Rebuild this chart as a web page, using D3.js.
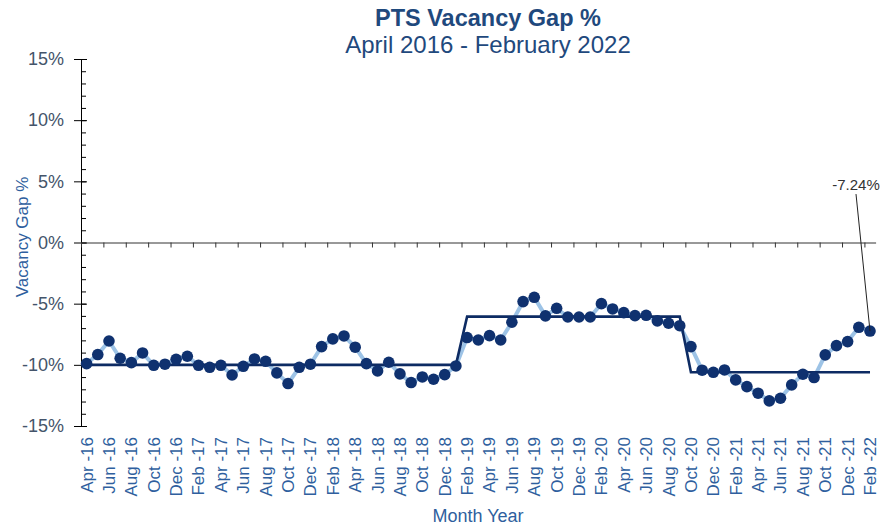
<!DOCTYPE html>
<html>
<head>
<meta charset="utf-8">
<script src="https://cdn.jsdelivr.net/npm/d3@7"></script>
<style>
  html, body { margin: 0; padding: 0; background: #ffffff; }
  svg { display: block; font-family: "Liberation Sans", Arial, sans-serif; }
</style>
</head>
<body>
<svg id="chart" width="884" height="532"></svg>
<script>
// Monthly categories, April 2016 to February 2022
const months = [
  "Apr -16","May -16","Jun -16","Jul -16","Aug -16","Sep -16","Oct -16","Nov -16","Dec -16",
  "Jan -17","Feb -17","Mar -17","Apr -17","May -17","Jun -17","Jul -17","Aug -17","Sep -17","Oct -17","Nov -17","Dec -17",
  "Jan -18","Feb -18","Mar -18","Apr -18","May -18","Jun -18","Jul -18","Aug -18","Sep -18","Oct -18","Nov -18","Dec -18",
  "Jan -19","Feb -19","Mar -19","Apr -19","May -19","Jun -19","Jul -19","Aug -19","Sep -19","Oct -19","Nov -19","Dec -19",
  "Jan -20","Feb -20","Mar -20","Apr -20","May -20","Jun -20","Jul -20","Aug -20","Sep -20","Oct -20","Nov -20","Dec -20",
  "Jan -21","Feb -21","Mar -21","Apr -21","May -21","Jun -21","Jul -21","Aug -21","Sep -21","Oct -21","Nov -21","Dec -21",
  "Jan -22","Feb -22"
];

// Monthly vacancy gap (%)
const vacancyGap = [
  -9.90, -9.16, -8.05, -9.46, -9.82, -9.03, -10.04, -9.95, -9.55,
  -9.30, -10.04, -10.20, -10.04, -10.83, -10.12, -9.52, -9.71, -10.66, -11.53, -10.20, -9.95,
  -8.51, -7.88, -7.64, -8.56, -9.90, -10.50, -9.79, -10.74, -11.45, -10.99, -11.18, -10.80,
  -10.09, -7.77, -7.97, -7.61, -7.97, -6.52, -4.83, -4.48, -6.00, -5.38, -6.09, -6.09,
  -6.09, -5.00, -5.43, -5.73, -5.98, -5.95, -6.41, -6.60, -6.80, -8.51, -10.44, -10.61,
  -10.42, -11.23, -11.78, -12.32, -12.95, -12.73, -11.64, -10.77, -11.04, -9.19, -8.43, -8.10,
  -6.93, -7.24
];

// Period averages: [first month, last month, mean gap %]
const periodMeans = [
  ["Apr -16", "Jan -19", -10.00],
  ["Feb -19", "Sep -20", -6.06],
  ["Oct -20", "Feb -22", -10.61]
];

const yMajorTicks = [-15, -10, -5, 0, 5, 10, 15];
const yMinorTicks = d3.range(-15, 16, 1);
const xLabelMonths = months.filter((m, i) => i % 2 === 0);

const svg = d3.select("#chart");

const plotLeft = 81, plotRight = 875.6, plotTop = 59, plotBottom = 426;

const x = d3.scaleBand().domain(months).range([plotLeft, plotRight]).padding(0);
const bw = x.bandwidth();
const cx = m => x(m) + bw / 2;
const y = d3.scaleLinear().domain([-15, 15]).range([plotBottom, plotTop]);
// boundary positions between categories (for tick marks on the zero line)
const xIdx = d3.scaleLinear().domain([0, months.length]).range([plotLeft, plotRight]);

const pctFmt = v => (v < 0 ? "-" : "") + Math.abs(v) + "%";

// Title
svg.append("text")
  .attr("x", 488).attr("y", 26)
  .attr("text-anchor", "middle")
  .attr("font-size", 23.5).attr("font-weight", "bold")
  .attr("fill", "#1f497d")
  .text("PTS Vacancy Gap %");
svg.append("text")
  .attr("x", 488).attr("y", 53)
  .attr("text-anchor", "middle")
  .attr("font-size", 24)
  .attr("fill", "#1f497d")
  .text("April 2016 - February 2022");

// Y axis: minor ticks (inside), major ticks with labels
const yMinor = svg.append("g")
  .attr("transform", `translate(${plotLeft},0)`)
  .call(d3.axisLeft(y).tickValues(yMinorTicks).tickSize(-5).tickFormat(""));
yMinor.select(".domain").remove();
yMinor.selectAll("line").attr("stroke", "#000");

const yAxis = svg.append("g")
  .attr("transform", `translate(${plotLeft},0)`)
  .call(d3.axisLeft(y).tickValues(yMajorTicks).tickSize(7).tickSizeOuter(0).tickPadding(10).tickFormat(pctFmt));
yAxis.select(".domain").attr("stroke", "#000");
yAxis.selectAll("line").attr("stroke", "#000");
yAxis.selectAll("text")
  .attr("font-size", 18)
  .attr("font-family", "Liberation Sans, Arial, sans-serif")
  .attr("fill", "#44546a");
// extend major ticks across the axis line
yAxis.selectAll(".tick line").attr("x2", -7).attr("x1", 6);

// Zero line with tick marks every two months
const boundaryTicks = d3.range(0, months.length, 2);
const xZero = svg.append("g")
  .attr("transform", `translate(0,${y(0)})`)
  .call(d3.axisBottom(xIdx).tickValues(boundaryTicks).tickSize(5).tickSizeOuter(0).tickFormat(""));
xZero.select(".domain").attr("stroke", "#333").attr("stroke-width", 1);
xZero.selectAll("line").attr("stroke", "#333");

// Month labels below the plot
const xLab = svg.append("g").attr("class", "x-labels");
xLab.selectAll("text")
  .data(xLabelMonths)
  .join("text")
  .attr("transform", m => `translate(${cx(m)},437) rotate(-90)`)
  .attr("text-anchor", "end")
  .attr("dy", "0.35em")
  .attr("font-size", 17)
  .attr("fill", "#2f5f9e")
  .text(m => m);

// Axis titles
svg.append("text")
  .attr("transform", "translate(22,237) rotate(-90)")
  .attr("text-anchor", "middle")
  .attr("dy", "0.35em")
  .attr("font-size", 17)
  .attr("fill", "#2f5f9e")
  .text("Vacancy Gap %");
svg.append("text")
  .attr("x", 478).attr("y", 522)
  .attr("text-anchor", "middle")
  .attr("font-size", 18)
  .attr("fill", "#2f5f9e")
  .text("Month Year");

// Monthly series: connecting line
const series = months.map((m, i) => ({ m, v: vacancyGap[i] }));
svg.append("path")
  .datum(series)
  .attr("fill", "none")
  .attr("stroke", "#9dc3e6")
  .attr("stroke-width", 4)
  .attr("stroke-linejoin", "round")
  .attr("d", d3.line().x(d => cx(d.m)).y(d => y(d.v)));

// Period average step line
const stepPts = periodMeans.flatMap(([a, b, v]) => [{ m: a, v }, { m: b, v }]);
svg.append("path")
  .datum(stepPts)
  .attr("fill", "none")
  .attr("stroke", "#0d2b63")
  .attr("stroke-width", 2.6)
  .attr("d", d3.line().x(d => cx(d.m)).y(d => y(d.v)));

// Monthly markers
svg.append("g")
  .selectAll("circle")
  .data(series)
  .join("circle")
  .attr("cx", d => cx(d.m))
  .attr("cy", d => y(d.v))
  .attr("r", 5.8)
  .attr("fill", "#0f316f");

// Latest value callout
const last = series[series.length - 1];
const lx = cx(last.m), ly = y(last.v);
svg.append("line")
  .attr("x1", lx - 14).attr("y1", ly - 137)
  .attr("x2", lx).attr("y2", ly)
  .attr("stroke", "#222").attr("stroke-width", 1);
svg.append("text")
  .attr("x", lx - 14).attr("y", ly - 141)
  .attr("text-anchor", "middle")
  .attr("font-size", 15)
  .attr("fill", "#333")
  .text(pctFmt(last.v));
</script>
</body>
</html>
